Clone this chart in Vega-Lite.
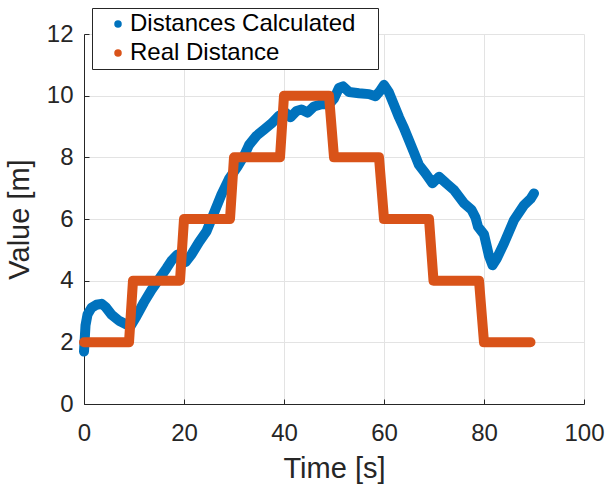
{
  "$schema": "https://vega.github.io/schema/vega-lite/v6.json",
  "width": 500,
  "height": 370,
  "autosize": {"type": "none"},
  "padding": {"left": 84, "top": 34, "right": 25, "bottom": 81},
  "background": "white",
  "config": {
    "view": {"stroke": null},
    "font": "Liberation Sans",
    "axis": {
      "grid": true,
      "gridColor": "#e3e3e3",
      "gridWidth": 1,
      "domainColor": "#262626",
      "domainWidth": 1,
      "tickColor": "#262626",
      "tickSize": -5,
      "labelFlush": false,
      "labelFont": "Liberation Sans",
      "labelFontSize": 24,
      "labelColor": "#262626",
      "titleFont": "Liberation Sans",
      "titleFontSize": 29,
      "titleFontWeight": "normal",
      "titleColor": "#262626"
    }
  },
  "datasets": {
    "calc": [
      {"t": 0, "v": 1.7}, {"t": 0.3, "v": 2.55}, {"t": 0.7, "v": 2.9}, {"t": 1.5, "v": 3.12},
      {"t": 2.5, "v": 3.22}, {"t": 3.5, "v": 3.25}, {"t": 4.3, "v": 3.15}, {"t": 5.5, "v": 2.9},
      {"t": 7, "v": 2.7}, {"t": 8.5, "v": 2.58}, {"t": 9.3, "v": 2.52}, {"t": 10.5, "v": 2.85},
      {"t": 12, "v": 3.3}, {"t": 13.5, "v": 3.7}, {"t": 15, "v": 4.05}, {"t": 16.5, "v": 4.4},
      {"t": 17.5, "v": 4.65}, {"t": 18.7, "v": 4.85}, {"t": 19.5, "v": 4.8}, {"t": 20.3, "v": 4.6},
      {"t": 21.5, "v": 4.85}, {"t": 23, "v": 5.25}, {"t": 24.5, "v": 5.6}, {"t": 26, "v": 6.2},
      {"t": 27.5, "v": 6.8}, {"t": 29, "v": 7.3}, {"t": 30.7, "v": 7.7}, {"t": 32, "v": 8.05},
      {"t": 33, "v": 8.4}, {"t": 34.5, "v": 8.7}, {"t": 36, "v": 8.9}, {"t": 37.5, "v": 9.1},
      {"t": 39, "v": 9.35}, {"t": 40.3, "v": 9.45}, {"t": 41.3, "v": 9.3}, {"t": 42.5, "v": 9.5},
      {"t": 43.5, "v": 9.55}, {"t": 44.7, "v": 9.45}, {"t": 46, "v": 9.65}, {"t": 47.5, "v": 9.72},
      {"t": 49, "v": 9.72}, {"t": 50, "v": 9.9}, {"t": 51, "v": 10.25}, {"t": 51.8, "v": 10.3},
      {"t": 53, "v": 10.12}, {"t": 55, "v": 10.08}, {"t": 57, "v": 10.05}, {"t": 58.3, "v": 9.98},
      {"t": 59.2, "v": 10.15}, {"t": 60, "v": 10.35}, {"t": 61, "v": 10.1}, {"t": 62, "v": 9.7},
      {"t": 63, "v": 9.3}, {"t": 64, "v": 8.95}, {"t": 65, "v": 8.55}, {"t": 66, "v": 8.15},
      {"t": 67, "v": 7.75}, {"t": 68.3, "v": 7.48}, {"t": 69.7, "v": 7.16}, {"t": 71, "v": 7.37},
      {"t": 72.5, "v": 7.15}, {"t": 74, "v": 6.94}, {"t": 76, "v": 6.51}, {"t": 77.5, "v": 6.3},
      {"t": 78.3, "v": 6.05}, {"t": 78.8, "v": 5.75}, {"t": 80, "v": 5.5}, {"t": 81, "v": 4.8},
      {"t": 81.7, "v": 4.5}, {"t": 82.5, "v": 4.7}, {"t": 84, "v": 5.21}, {"t": 86, "v": 5.97},
      {"t": 88, "v": 6.45}, {"t": 89.3, "v": 6.65}, {"t": 90, "v": 6.83}
    ],
    "real": [
      {"t": 0, "v": 2}, {"t": 9, "v": 2}, {"t": 9.8, "v": 4}, {"t": 19.2, "v": 4},
      {"t": 20, "v": 6}, {"t": 29.2, "v": 6}, {"t": 30, "v": 8}, {"t": 39.2, "v": 8},
      {"t": 40, "v": 10}, {"t": 49, "v": 10}, {"t": 50, "v": 8}, {"t": 59, "v": 8},
      {"t": 60, "v": 6}, {"t": 69, "v": 6}, {"t": 69.9, "v": 4}, {"t": 79, "v": 4},
      {"t": 80, "v": 2}, {"t": 89.3, "v": 2}
    ]
  },
  "encoding": {
    "x": {
      "field": "t", "type": "quantitative",
      "scale": {"domain": [0, 100], "nice": false},
      "axis": {"values": [0, 20, 40, 60, 80, 100], "title": "Time [s]", "labelPadding": 22, "titlePadding": 9}
    },
    "y": {
      "field": "v", "type": "quantitative",
      "scale": {"domain": [0, 12], "nice": false},
      "axis": {"values": [0, 2, 4, 6, 8, 10, 12], "title": "Value [m]", "labelPadding": 16, "titlePadding": 12}
    }
  },
  "layer": [
    {
      "data": {"name": "calc"},
      "transform": [{"calculate": "'Distances Calculated'", "as": "series"}],
      "mark": {"type": "line", "strokeWidth": 10, "strokeCap": "round", "strokeJoin": "round"},
      "encoding": {
        "color": {
          "field": "series", "type": "nominal",
          "scale": {"domain": ["Distances Calculated", "Real Distance"], "range": ["#0072BD", "#D95319"]},
          "legend": {
            "title": null,
            "orient": "none",
            "legendX": 8,
            "legendY": -26,
            "fillColor": "white",
            "strokeColor": "#262626",
            "padding": 4,
            "symbolType": "circle",
            "symbolSize": 56,
            "symbolStrokeWidth": 0,
            "symbolOffset": 10,
            "labelFont": "Liberation Sans",
            "labelFontSize": 24,
            "labelColor": "#000000",
            "labelLimit": 400,
            "labelOffset": 0,
            "rowPadding": 5,
            "labelExpr": "datum.label + '\u2800'",
            "encode": {"symbols": {"update": {"fill": {"scale": "color", "field": "value"}, "strokeWidth": {"value": 0}}}}
          }
        }
      }
    },
    {
      "data": {"name": "real"},
      "transform": [{"calculate": "'Real Distance'", "as": "series"}],
      "mark": {"type": "line", "strokeWidth": 10, "strokeCap": "round", "strokeJoin": "round"},
      "encoding": {
        "color": {"field": "series", "type": "nominal"}
      }
    }
  ]
}
